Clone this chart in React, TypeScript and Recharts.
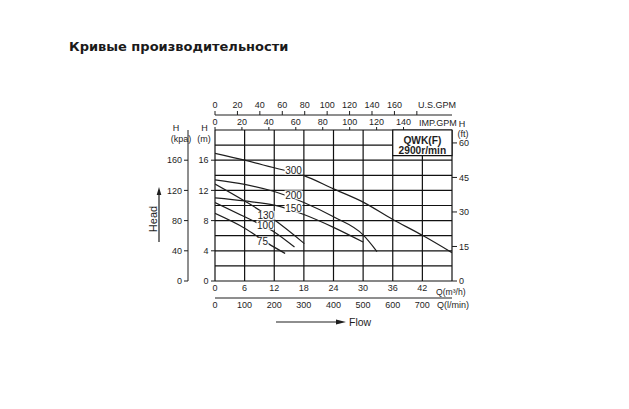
import {
  ComposedChart,
  Line,
  XAxis,
  YAxis,
  CartesianGrid,
  ReferenceArea,
  ReferenceDot,
} from 'recharts'

const TITLE = 'Кривые производительности'
const MODEL = 'QWK(F)'
const SPEED = '2900r/min'

// pump curves: Q in m³/h, H in m
const Q300 = [0, 6, 12, 18, 24, 30, 36, 42, 48]
const H300 = [16.9, 16.0, 15.0, 13.95, 12.2, 10.45, 8.15, 6.05, 3.75]
const Q200 = [0, 6, 12, 18, 24, 30, 32.8]
const H200 = [13.4, 12.8, 11.85, 10.4, 8.5, 6.1, 3.9]
const Q150 = [0, 6, 12, 18, 24, 30]
const H150 = [11.0, 10.6, 10.05, 8.8, 7.1, 5.15]
const Q130 = [0, 6, 12, 18.1]
const H130 = [12.85, 10.6, 8.1, 4.95]
const Q100 = [0, 6, 12, 16.1]
const H100 = [10.4, 8.5, 6.5, 4.5]
const Q75 = [0, 6, 10.8, 14.2]
const H75 = [8.96, 7.0, 4.95, 3.65]

// curve tags, sitting on the curves
const TAG_NAMES = ['300', '200', '150', '130', '100', '75']
const TAG_Q = [15.9, 15.9, 15.9, 10.3, 10.2, 9.6]
const TAG_H = [14.7, 11.4, 9.65, 8.7, 7.4, 5.2]

// axis ticks
const Q_TICKS = [0, 6, 12, 18, 24, 30, 36, 42, 48]
const H_TICKS = [0, 2, 4, 6, 8, 10, 12, 14, 16, 18, 20]
const KPA_TICKS = [0, 40, 80, 120, 160]
const FT_TICKS = [0, 15, 30, 45, 60]
const IMP_TICKS = [0, 20, 40, 60, 80, 100, 120, 140]
const USG_TICKS = [0, 20, 40, 60, 80, 100, 120, 140, 160, 180]
const LPM_TICKS = [0, 100, 200, 300, 400, 500, 600, 700]

const Q_MAX = 48
const H_MAX = 20
const IMP_PER_M3H = 3.6662
const USG_PER_M3H = 4.4029
const LPM_PER_M3H = 16.667
const FT_PER_M = 3.2808
const KPA_PER_M = 10

const curves = [
  { name: '300', q: Q300, h: H300 },
  { name: '200', q: Q200, h: H200 },
  { name: '150', q: Q150, h: H150 },
  { name: '130', q: Q130, h: H130 },
  { name: '100', q: Q100, h: H100 },
  { name: '75', q: Q75, h: H75 },
].map((c) => ({ name: c.name, data: c.q.map((q, i) => ({ q, h: c.h[i] })) }))

// flow range in every unit, so the secondary flow axes get a domain
const flowRange = [0, Q_MAX].map((q) => ({
  q,
  lpm: q * LPM_PER_M3H,
  imp: q * IMP_PER_M3H,
  us: q * USG_PER_M3H,
}))

const INK = '#1e1e1e'
const FONT = '"Liberation Sans", Arial, sans-serif'
const tickStyle = { fontSize: 9, fill: INK, fontFamily: FONT }

function MeterTick({ x, y, payload }: any) {
  const v = payload.value
  if (v % 4 !== 0 || v > 16) return <g />
  return (
    <g>
      <line x1={x + 2.5} x2={x + 6.5} y1={y} y2={y} stroke={INK} />
      <text x={x} y={y} dy="0.35em" textAnchor="end" {...tickStyle}>
        {v}
      </text>
    </g>
  )
}

function CurveTag({ cx, cy, text }: any) {
  const w = text.length * 5.6 + 1
  return (
    <g>
      <rect x={cx - w / 2} y={cy - 4.5} width={w} height={9} fill="#fff" />
      <text x={cx} y={cy} dy="0.36em" textAnchor="middle" fontSize={10} fill={INK} fontFamily={FONT}>
        {text}
      </text>
    </g>
  )
}

function ModelBox({ viewBox }: any) {
  const cx = viewBox.x + viewBox.width / 2
  return (
    <g fontFamily={FONT} fontWeight="bold" fontSize={10.2} fill={INK} textAnchor="middle">
      <text x={cx} y={viewBox.y + 13.6}>{MODEL}</text>
      <text x={cx} y={viewBox.y + 23.8}>{SPEED}</text>
    </g>
  )
}

export default function App() {
  return (
    <div style={{ position: 'absolute', left: 0, top: 0, width: 629, height: 409, background: '#fff' }}>
      <ComposedChart
        width={629}
        height={409}
        data={flowRange}
        margin={{ top: 95, right: 147, bottom: 91, left: 158 }}
      >
        <CartesianGrid xAxisId="a_q" yAxisId="a_m" stroke="#111" strokeWidth={1.2} />
        {/* ids sort alphabetically: the "a_" axis sits next to the plot */}
        <XAxis
          xAxisId="a_q"
          orientation="bottom"
          type="number"
          dataKey="q"
          domain={[0, Q_MAX]}
          ticks={Q_TICKS}
          interval={0}
          allowDataOverflow
          height={17}
          axisLine={false}
          tickLine={false}
          tickSize={0}
          tickMargin={4}
          tick={tickStyle}
          tickFormatter={(v) => (v === Q_MAX ? '' : String(v))}
        />
        <XAxis
          xAxisId="b_lpm"
          orientation="bottom"
          type="number"
          dataKey="lpm"
          domain={[0, Q_MAX * LPM_PER_M3H]}
          ticks={LPM_TICKS}
          interval={0}
          allowDataOverflow
          height={20}
          axisLine={{ stroke: INK }}
          tickLine={false}
          tickSize={0}
          tickMargin={4}
          tick={tickStyle}
        />
        <XAxis
          xAxisId="a_imp"
          orientation="top"
          type="number"
          dataKey="imp"
          domain={[0, Q_MAX * IMP_PER_M3H]}
          ticks={IMP_TICKS}
          interval={0}
          allowDataOverflow
          height={15}
          axisLine={false}
          tickLine={{ stroke: INK }}
          tickSize={3}
          tickMargin={2}
          tick={tickStyle}
        />
        <XAxis
          xAxisId="b_us"
          orientation="top"
          type="number"
          dataKey="us"
          domain={[0, Q_MAX * USG_PER_M3H]}
          ticks={USG_TICKS}
          interval={0}
          allowDataOverflow
          height={20}
          axisLine={{ stroke: INK }}
          tickLine={{ stroke: INK }}
          tickSize={4}
          tickMargin={3}
          tick={tickStyle}
          tickFormatter={(v) => (v === 180 ? '' : String(v))}
        />
        <YAxis
          yAxisId="a_m"
          orientation="left"
          type="number"
          domain={[0, H_MAX]}
          ticks={H_TICKS}
          interval={0}
          allowDataOverflow
          width={27}
          axisLine={false}
          tickLine={false}
          tickSize={4}
          tickMargin={2.5}
          tick={<MeterTick />}
        />
        <YAxis
          yAxisId="b_kpa"
          orientation="left"
          type="number"
          domain={[0, H_MAX * KPA_PER_M]}
          ticks={KPA_TICKS}
          interval={0}
          allowDataOverflow
          width={30}
          axisLine={{ stroke: INK }}
          tickLine={{ stroke: INK }}
          tickSize={4}
          tickMargin={2}
          tick={tickStyle}
        />
        <YAxis
          yAxisId="ft"
          orientation="right"
          type="number"
          domain={[0, H_MAX * FT_PER_M]}
          ticks={FT_TICKS}
          interval={0}
          allowDataOverflow
          width={30}
          axisLine={false}
          tickLine={{ stroke: INK }}
          tickSize={5}
          tickMargin={2}
          tick={tickStyle}
        />
        <ReferenceArea
          xAxisId="a_q"
          yAxisId="a_m"
          x1={36}
          x2={48}
          y1={16.6}
          y2={20}
          fill="#fff"
          fillOpacity={1}
          stroke="#111"
          strokeWidth={1.2}
          ifOverflow="visible"
          label={(p: any) => <ModelBox {...p} />}
        />
        {curves.map((c) => (
          <Line
            key={c.name}
            data={c.data}
            dataKey="h"
            xAxisId="a_q"
            yAxisId="a_m"
            type="monotone"
            dot={false}
            activeDot={false}
            stroke={INK}
            strokeWidth={1.2}
            isAnimationActive={false}
          />
        ))}
        {TAG_NAMES.map((t, i) => (
          <ReferenceDot
            key={t}
            xAxisId="a_q"
            yAxisId="a_m"
            x={TAG_Q[i]}
            y={TAG_H[i]}
            r={0}
            ifOverflow="visible"
            shape={(p: any) => <CurveTag cx={p.cx} cy={p.cy} text={t} />}
          />
        ))}
      </ComposedChart>

      <svg
        width={629}
        height={409}
        style={{ position: 'absolute', left: 0, top: 0, pointerEvents: 'none' }}
        fontFamily={FONT}
        fill={INK}
      >
        <text x={69} y={51} fontFamily='"DejaVu Sans", sans-serif' fontWeight="bold" fontSize={13} fill="#1a1a1a">
          {TITLE}
        </text>

        <g fontSize={9} textAnchor="middle" dominantBaseline="central">
          <text x={176} y={128}>H</text>
          <text x={181} y={138.5}>(kpa)</text>
          <text x={204.5} y={128}>H</text>
          <text x={204} y={138.5}>(m)</text>
          <text x={462} y={123.5}>H</text>
          <text x={463} y={133.5}>(ft)</text>
        </g>
        <g fontSize={9} dominantBaseline="central">
          <text x={418} y={105}>U.S.GPM</text>
          <text x={419} y={122.5}>IMP.GPM</text>
          <text x={436} y={291.5} fontSize={8.6}>Q(m³/h)</text>
          <text x={437} y={304.5}>Q(l/min)</text>
        </g>

        <text
          x={153}
          y={219}
          fontSize={11}
          textAnchor="middle"
          dominantBaseline="central"
          transform="rotate(-90 153 219)"
        >
          Head
        </text>
        <line x1={159} y1={242} x2={159} y2={192} stroke={INK} strokeWidth={1.2} />
        <path d="M159,187 L161.3,195 L156.7,195 Z" fill={INK} />

        <line x1={276} y1={322} x2={338} y2={322} stroke={INK} strokeWidth={1.2} />
        <path d="M346,322 L336,319.6 L336,324.4 Z" fill={INK} />
        <text x={349} y={322} fontSize={10.5} dominantBaseline="central">
          Flow
        </text>
      </svg>
    </div>
  )
}
